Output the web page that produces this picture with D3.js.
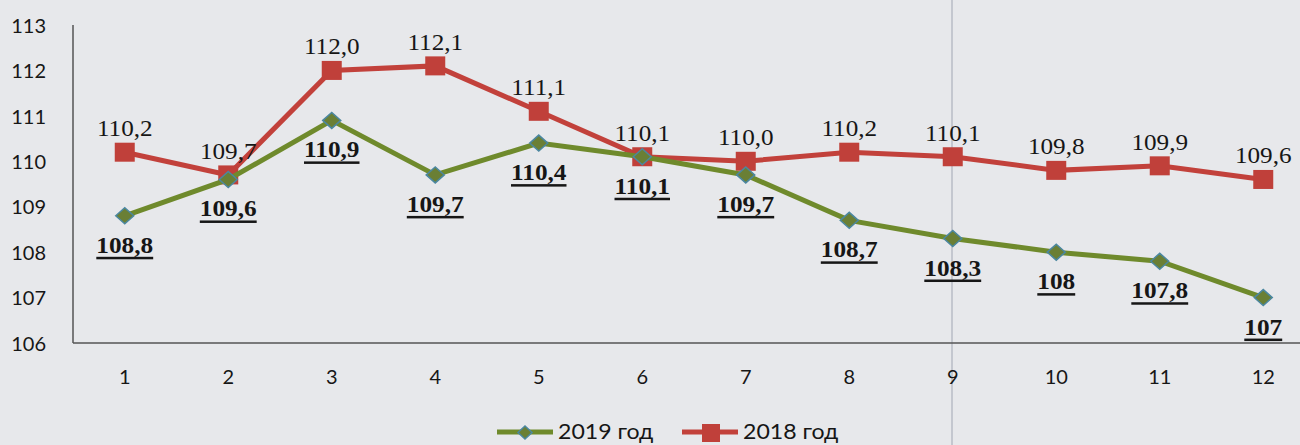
<!DOCTYPE html>
<html lang="ru">
<head>
<meta charset="utf-8">
<title>2019 / 2018</title>
<script src="https://d3js.org/d3.v7.min.js"></script>
<style>
  body { margin: 0; background: #e7e8eb; }
  svg { display: block; }
  .axis text { font-family: Lato, "Open Sans", sans-serif; font-size: 20px; fill: #161616; }
  .axis path { stroke: #555; stroke-width: 1.5; }
  .lbl18 { font-family: "Liberation Serif", "Times New Roman", serif; font-size: 24px; fill: #161616; }
  .lbl19 { font-family: "Liberation Serif", "Times New Roman", serif; font-size: 23px; font-weight: bold; fill: #161616; }
  .legend text { font-family: Lato, "Open Sans", sans-serif; font-size: 21px; fill: #161616; }
</style>
</head>
<body>
<script>
// data
var months = ["1", "2", "3", "4", "5", "6", "7", "8", "9", "10", "11", "12"];
var v2019 = [108.8, 109.6, 110.9, 109.7, 110.4, 110.1, 109.7, 108.7, 108.3, 108, 107.8, 107];
var v2018 = [110.2, 109.7, 112.0, 112.1, 111.1, 110.1, 110.0, 110.2, 110.1, 109.8, 109.9, 109.6];
var labels2019 = ["108,8", "109,6", "110,9", "109,7", "110,4", "110,1", "109,7", "108,7", "108,3", "108", "107,8", "107"];
var labels2018 = ["110,2", "109,7", "112,0", "112,1", "111,1", "110,1", "110,0", "110,2", "110,1", "109,8", "109,9", "109,6"];
var yTicks = [106, 107, 108, 109, 110, 111, 112, 113];

var w = 1300, h = 445;
var mLeft = 73, mRight = 1315, mTop = 25, mBottom = 343;
var sx18 = 1.05, sx19 = 1.1, sxLeg = 1.1; // the scan is a bit wider than the fonts

var svg = d3.select("body").append("svg").attr("width", w).attr("height", h);

var x = d3.scaleBand().domain(months).range([mLeft, mRight]);
var y = d3.scaleLinear().domain([106, 113]).range([mBottom, mTop]);
var cx = function (i) { return x(months[i]) + x.bandwidth() / 2; };

// fold line of the scanned page
svg.append("line").attr("x1", 952).attr("x2", 952).attr("y1", 0).attr("y2", h)
  .attr("stroke", "#b9bdc6").attr("stroke-width", 1.5);

// y axis
var gy = svg.append("g").attr("class", "axis").attr("transform", "translate(" + mLeft + ",0)")
  .call(d3.axisLeft(y).tickValues(yTicks).tickFormat(d3.format("d")).tickSize(0).tickPadding(27));
gy.select(".domain").attr("d", "M0," + mTop + "V" + mBottom);
gy.selectAll("text").attr("dy", "0.36em");

// x axis
var gx = svg.append("g").attr("class", "axis").attr("transform", "translate(0," + mBottom + ")")
  .call(d3.axisBottom(x).tickSize(0).tickPadding(27));
gx.select(".domain").attr("d", "M" + mLeft + ",0H" + w);

var line = d3.line().x(function (d, i) { return cx(i); }).y(function (d) { return y(d); });

// 2018
svg.append("path").datum(v2018).attr("d", line).attr("fill", "none")
  .attr("stroke", "#c2413b").attr("stroke-width", 5);
svg.selectAll(".sq").data(v2018).enter().append("rect")
  .attr("x", function (d, i) { return cx(i) - 10; })
  .attr("y", function (d) { return y(d) - 9.5; })
  .attr("width", 20).attr("height", 19).attr("fill", "#c0403a");

// 2019
svg.append("path").datum(v2019).attr("d", line).attr("fill", "none")
  .attr("stroke", "#6f8a2c").attr("stroke-width", 5);
svg.selectAll(".dm").data(v2019).enter().append("path")
  .attr("d", function (d, i) {
    var px = cx(i), py = y(d);
    return "M" + (px - 9) + "," + py + "L" + px + "," + (py - 8) + "L" + (px + 9) + "," + py + "L" + px + "," + (py + 8) + "Z";
  })
  .attr("fill", "#6a7f35").attr("stroke", "#4b87a0").attr("stroke-width", 1.5);

// labels
svg.selectAll(".l18").data(v2018).enter().append("text").attr("class", "lbl18")
  .attr("text-anchor", "middle")
  .attr("transform", function (d, i) { return "translate(" + cx(i) + "," + (y(d) - 16) + ") scale(" + sx18 + ",1)"; })
  .text(function (d, i) { return labels2018[i]; });

var l19 = svg.selectAll(".l19").data(v2019).enter().append("g")
  .attr("transform", function (d, i) { return "translate(" + cx(i) + "," + (y(d) + 37) + ")"; });
l19.append("text").attr("class", "lbl19").attr("text-anchor", "middle")
  .attr("transform", "scale(" + sx19 + ",1)")
  .text(function (d, i) { return labels2019[i]; });
// underline, as thick as the scanned one
l19.each(function () {
  var g = d3.select(this);
  var tw = g.select("text").node().getComputedTextLength() * sx19;
  g.append("rect").attr("x", -tw / 2).attr("y", 4).attr("width", tw).attr("height", 2.5).attr("fill", "#161616");
});

// legend
var lg = svg.append("g").attr("class", "legend");
lg.append("line").attr("x1", 497).attr("x2", 553).attr("y1", 432).attr("y2", 432)
  .attr("stroke", "#6f8a2c").attr("stroke-width", 5);
lg.append("path").attr("d", "M518,432.5L525,426L532,432.5L525,439Z")
  .attr("fill", "#6a7f35").attr("stroke", "#4b87a0").attr("stroke-width", 1.5);
lg.append("text").attr("transform", "translate(558,439) scale(" + sxLeg + ",1)").text("2019 год");
lg.append("line").attr("x1", 682).attr("x2", 738).attr("y1", 432).attr("y2", 432)
  .attr("stroke", "#c2413b").attr("stroke-width", 5);
lg.append("rect").attr("x", 702).attr("y", 424).attr("width", 18).attr("height", 18).attr("fill", "#c0403a");
lg.append("text").attr("transform", "translate(743,439) scale(" + sxLeg + ",1)").text("2018 год");
</script>
</body>
</html>
